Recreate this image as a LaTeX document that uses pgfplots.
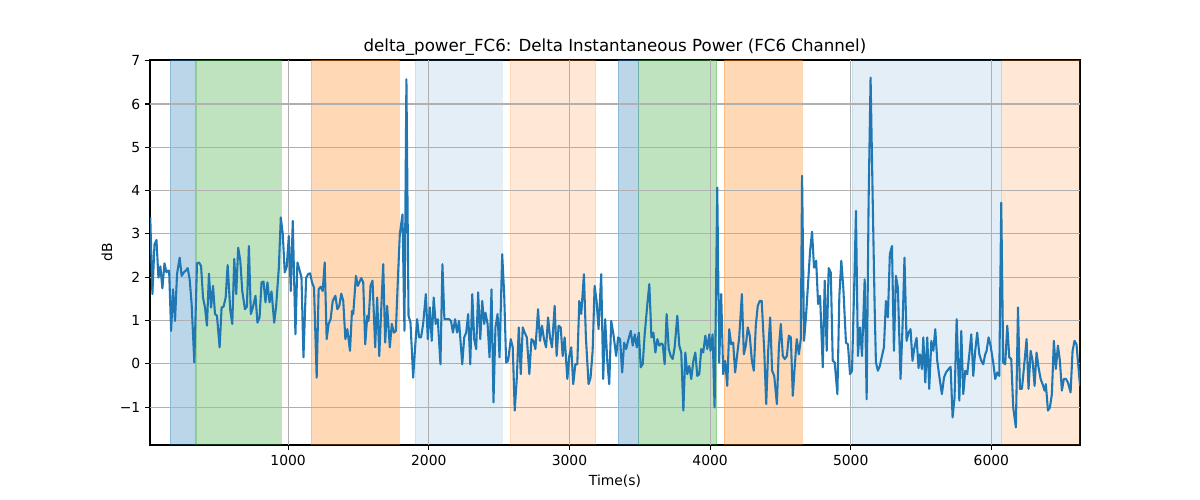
\documentclass[border=0pt]{standalone}
\usepackage{pgfplots}
\pgfplotsset{compat=1.18}
\usepackage{fontspec}
\setmainfont{DejaVu Sans}
\definecolor{tabblue}{HTML}{1F77B4}
\definecolor{taborange}{HTML}{FF7F0E}
\definecolor{tabgreen}{HTML}{2CA02C}
\definecolor{gridgray}{HTML}{B0B0B0}
\begin{document}
\begin{tikzpicture}
\path[use as bounding box] (0,0) rectangle (864bp,360bp);
\begin{axis}[
  at={(108bp,39.6bp)}, anchor=south west,
  scale only axis, width=669.6bp, height=277.2bp,
  xmin=18, xmax=6630, ymin=-1.875, ymax=7.015,
  xtick={1000,2000,3000,4000,5000,6000},
  ytick={-1,0,1,2,3,4,5,6,7},
  yticklabels={−1,0,1,2,3,4,5,6,7},
  /pgf/number format/assume math mode=true,
  /pgf/number format/1000 sep={},
  tick label style={font=\fontsize{10bp}{12bp}\selectfont},
  tick align=outside, tick pos=left,
  major tick length=3.5bp,
  every tick/.style={black, line width=0.8bp},
  axis line style={line width=0.8bp},
  every axis title shift=0pt,
  title={delta\_power\_FC6: Delta Instantaneous Power (FC6 Channel)},
  title style={font=\fontsize{12bp}{14bp}\selectfont, at={(axis description cs:0.5,1.0222)}, anchor=base},
  xlabel={Time(s)},
  xlabel style={font=\fontsize{10bp}{12bp}\selectfont, at={(axis description cs:0.5,-0.104)}, anchor=base},
  ylabel={dB},
  ylabel style={font=\fontsize{10bp}{12bp}\selectfont, at={(axis description cs:-0.0463,0.5)}, anchor=center},
  spanA/.style={draw=#1, draw opacity=0.3, fill=#1, fill opacity=0.3},
  spanB/.style={draw=tabblue, draw opacity=0.12, fill=tabblue, fill opacity=0.12},
  spanC/.style={draw=taborange, draw opacity=0.17, fill=taborange, fill opacity=0.17},
  gl/.style={gridgray, line width=0.8bp, forget plot},
]
% shaded spans
\addplot[spanA=tabblue] coordinates {(161,-1.875)(343,-1.875)(343,7.015)(161,7.015)} -- cycle;
\addplot[spanA=tabgreen] coordinates {(345,-1.875)(948,-1.875)(948,7.015)(345,7.015)} -- cycle;
\addplot[spanA=taborange] coordinates {(1163,-1.875)(1787,-1.875)(1787,7.015)(1163,7.015)} -- cycle;
\addplot[spanB] coordinates {(1903,-1.875)(2521,-1.875)(2521,7.015)(1903,7.015)} -- cycle;
\addplot[spanC] coordinates {(2578,-1.875)(3187,-1.875)(3187,7.015)(2578,7.015)} -- cycle;
\addplot[spanA=tabblue] coordinates {(3346,-1.875)(3491,-1.875)(3491,7.015)(3346,7.015)} -- cycle;
\addplot[spanA=tabgreen] coordinates {(3491,-1.875)(4047,-1.875)(4047,7.015)(3491,7.015)} -- cycle;
\addplot[spanA=taborange] coordinates {(4099,-1.875)(4652,-1.875)(4652,7.015)(4099,7.015)} -- cycle;
\addplot[spanB] coordinates {(5011,-1.875)(6070,-1.875)(6070,7.015)(5011,7.015)} -- cycle;
\addplot[spanC] coordinates {(6070,-1.875)(6630,-1.875)(6630,7.015)(6070,7.015)} -- cycle;
% grid lines (above spans, below signal, as in matplotlib)
\addplot[gl] coordinates {(1000,-1.875)(1000,7.015)};
\addplot[gl] coordinates {(2000,-1.875)(2000,7.015)};
\addplot[gl] coordinates {(3000,-1.875)(3000,7.015)};
\addplot[gl] coordinates {(4000,-1.875)(4000,7.015)};
\addplot[gl] coordinates {(5000,-1.875)(5000,7.015)};
\addplot[gl] coordinates {(6000,-1.875)(6000,7.015)};
\addplot[gl] coordinates {(18,-1)(6630,-1)};
\addplot[gl] coordinates {(18,0)(6630,0)};
\addplot[gl] coordinates {(18,1)(6630,1)};
\addplot[gl] coordinates {(18,2)(6630,2)};
\addplot[gl] coordinates {(18,3)(6630,3)};
\addplot[gl] coordinates {(18,4)(6630,4)};
\addplot[gl] coordinates {(18,5)(6630,5)};
\addplot[gl] coordinates {(18,6)(6630,6)};
% signal
\addplot[tabblue, line width=1.5bp, line join=round, mark=none] coordinates {
(20,3.38)(35,1.61)(50,2.76)(64,2.86)(78,1.99)(92,2.25)(106,1.74)(121,2.32)(135,2.11)(144,2.15)(154,2.15)(168,0.76)(182,1.72)(196,0.99)(210,2.07)(229,2.45)(243,2.03)(258,2.11)(272,2.15)(286,2.21)(300,1.95)(314,1.38)(333,0.03)(352,2.32)(366,2.34)(381,2.26)(395,1.53)(409,1.30)(423,0.88)(437,2.08)(452,1.30)(466,1.80)(480,1.15)(494,1.11)(513,0.38)(527,1.30)(541,1.32)(556,1.53)(570,2.28)(589,1.22)(603,0.92)(617,2.42)(631,1.61)(645,2.68)(660,2.38)(674,1.68)(693,1.26)(707,1.32)(721,2.72)(735,1.15)(749,1.30)(768,1.57)(782,0.95)(797,1.07)(811,1.88)(825,1.90)(839,1.42)(853,1.88)(868,1.42)(882,1.67)(901,0.95)(915,1.34)(934,2.22)(948,3.38)(962,2.99)(976,2.11)(990,2.24)(1005,2.95)(1019,1.68)(1033,3.30)(1052,0.68)(1066,2.34)(1080,2.18)(1095,1.99)(1109,0.15)(1128,1.98)(1142,2.07)
(1156,2.09)(1170,1.88)(1184,1.76)(1203,-0.32)(1217,1.72)(1232,1.78)(1246,1.68)(1260,2.34)(1274,0.57)(1288,0.92)(1302,1.03)(1317,1.45)(1336,1.57)(1350,1.26)(1364,1.34)(1378,1.62)(1392,1.45)(1407,0.57)(1421,0.80)(1440,0.30)(1454,1.22)(1463,1.15)(1482,2.03)(1496,1.80)(1506,1.88)(1520,1.98)(1534,1.88)(1548,0.45)(1563,1.11)(1572,0.99)(1586,1.80)(1600,1.92)(1619,0.38)(1633,1.53)(1648,0.18)(1662,1.26)(1676,2.30)(1690,0.49)(1704,1.34)(1723,0.38)(1737,0.92)(1752,0.72)(1766,0.76)(1780,1.92)(1794,2.99)(1813,3.45)(1827,0.76)(1841,6.57)(1856,1.11)(1870,0.95)(1889,-0.32)(1903,0.38)(1917,1.03)(1931,0.61)(1945,0.61)(1960,0.92)(1979,1.61)(1993,0.57)(2007,1.30)(2021,0.53)(2035,1.53)(2049,0.92)(2064,1.03)(2083,-0.01)(2097,2.30)(2111,1.03)(2125,1.03)(2144,1.03)(2158,0.99)(2172,0.72)(2187,1.03)(2201,0.72)(2215,0.99)
(2238,-0.01)(2252,0.61)(2266,0.72)(2280,1.15)(2295,-0.01)(2309,1.61)(2323,0.57)(2337,0.34)(2351,1.65)(2366,0.57)(2380,1.45)(2394,0.92)(2403,1.18)(2418,0.92)(2432,0.15)(2446,1.72)(2460,-0.89)(2474,0.84)(2489,1.15)(2503,0.15)(2522,2.53)(2536,1.61)(2550,0.03)(2564,0.07)(2583,0.57)(2597,0.38)(2611,-1.08)(2626,-0.32)(2640,0.84)(2654,-0.24)(2668,0.84)(2682,0.72)(2697,0.61)(2715,-0.24)(2730,0.57)(2744,0.53)(2758,0.34)(2777,1.26)(2791,0.53)(2805,0.88)(2819,0.57)(2834,0.38)(2848,1.07)(2862,0.61)(2876,0.38)(2895,1.34)(2909,0.18)(2923,0.88)(2938,0.84)(2952,0.18)(2966,0.61)(2985,-0.35)(2999,0.18)(3013,0.38)(3027,-0.47)(3042,-0.01)(3056,-0.01)(3070,1.45)(3084,1.15)(3103,2.07)(3117,0.61)(3136,-0.47)(3150,-0.32)(3165,0.30)(3179,1.80)(3193,1.45)(3207,0.80)(3226,2.07)(3240,-0.35)(3254,1.03)(3269,0.07)(3283,-0.47)(3297,0.99)
(3313,0.68)(3332,0.18)(3346,0.61)(3360,0.57)(3375,-0.20)(3389,0.49)(3403,0.34)(3417,0.53)(3436,0.76)(3450,0.42)(3465,0.68)(3479,0.38)(3493,0.72)(3507,-0.08)(3521,-0.01)(3535,0.68)(3554,1.38)(3568,1.84)(3583,0.61)(3597,0.72)(3611,0.26)(3625,0.57)(3639,0.42)(3654,0.47)(3663,0.45)(3677,-0.01)(3691,1.15)(3706,0.34)(3720,0.18)(3734,0.11)(3748,0.38)(3767,1.11)(3781,0.42)(3795,0.26)(3810,-1.08)(3824,0.26)(3838,-0.24)(3852,-0.05)(3866,-0.35)(3881,0.07)(3895,0.26)(3909,-0.28)(3923,-0.24)(3937,0.34)(3951,0.26)(3966,0.65)(3980,0.34)(3994,0.68)(4003,0.30)(4018,0.68)(4032,-1.01)(4051,4.07)(4065,0.03)(4079,1.61)(4093,-0.24)(4107,0.07)(4122,-0.51)(4136,0.80)(4150,0.45)(4164,0.49)(4178,-0.20)(4193,0.22)(4207,0.61)(4226,1.61)(4240,0.22)(4254,0.42)(4268,0.84)(4282,0.65)(4297,0.07)(4311,-0.16)(4325,0.88)(4339,1.34)(4353,1.45)(4367,1.45)
(4385,0.30)(4399,-0.93)(4413,0.30)(4427,1.07)(4441,-0.16)(4456,-0.28)(4475,-0.93)(4489,0.38)(4503,0.92)(4517,0.18)(4531,0.11)(4546,0.18)(4560,0.65)(4574,0.61)(4588,-0.74)(4602,-0.05)(4616,0.57)(4631,0.22)(4645,0.57)(4654,4.34)(4668,0.53)(4683,1.15)(4697,1.88)(4711,2.61)(4725,3.05)(4739,2.22)(4754,2.38)(4768,1.38)(4782,1.57)(4801,-0.08)(4815,1.92)(4829,0.30)(4843,2.21)(4858,2.11)(4872,0.07)(4886,0.03)(4905,-0.70)(4919,1.57)(4933,2.38)(4947,1.76)(4966,0.49)(4980,0.45)(4995,-0.24)(5009,-0.16)(5028,2.22)(5037,3.53)(5051,0.18)(5066,0.84)(5080,0.18)(5099,1.95)(5113,-0.82)(5127,3.76)(5141,6.61)(5155,3.99)(5170,1.30)(5179,0.03)(5193,-0.16)(5207,-0.05)(5222,0.18)(5236,0.38)(5250,1.45)(5264,1.07)(5278,2.53)(5293,2.72)(5307,0.30)(5321,2.03)(5335,1.76)(5354,-0.35)(5368,0.84)(5382,2.45)(5397,0.53)(5411,0.72)(5425,0.80)(5439,0.07)(5453,0.38)
(5468,0.60)(5482,-0.10)
(5492,0.22)(5506,-0.12)(5516,0.61)(5530,-0.43)(5544,0.61)(5558,-0.58)(5573,0.53)(5587,0.30)(5601,0.80)(5615,0.07)(5634,-0.39)(5648,-0.70)(5663,-0.32)(5677,-0.20)(5696,-0.12)(5710,-0.07)(5724,-1.24)(5738,-0.78)(5753,1.03)(5772,-0.85)(5786,0.76)(5800,-0.70)(5814,-0.16)(5828,-0.24)(5843,0.22)(5857,0.68)(5871,-0.28)(5885,0.30)(5899,0.72)(5914,0.22)(5928,0.07)(5942,-0.01)(5956,0.22)(5966,0.30)(5980,0.61)(5994,0.42)(6013,0.03)(6027,-0.35)(6042,-0.20)(6056,-0.28)(6070,3.72)(6084,0.03)(6098,-0.01)(6113,0.88)(6127,0.15)(6141,0.11)(6155,-1.01)(6174,-1.47)(6189,1.30)(6203,-0.58)(6217,-0.58)(6236,0.07)(6250,0.57)(6264,-0.58)(6279,0.30)(6293,0.07)(6307,-0.51)(6321,0.26)(6335,-0.08)(6350,-0.35)(6364,-0.47)(6378,-0.62)(6387,-0.47)(6402,-1.08)(6416,-1.01)(6430,-0.70)(6444,0.53)(6458,-0.12)(6473,0.42)(6487,0.07)(6501,-0.62)(6515,-0.35)(6530,-0.35)(6544,-0.43)(6563,-0.66)(6577,0.30)(6591,0.53)(6605,0.45)(6630,-0.51)
};
\end{axis}
\end{tikzpicture}
\end{document}
